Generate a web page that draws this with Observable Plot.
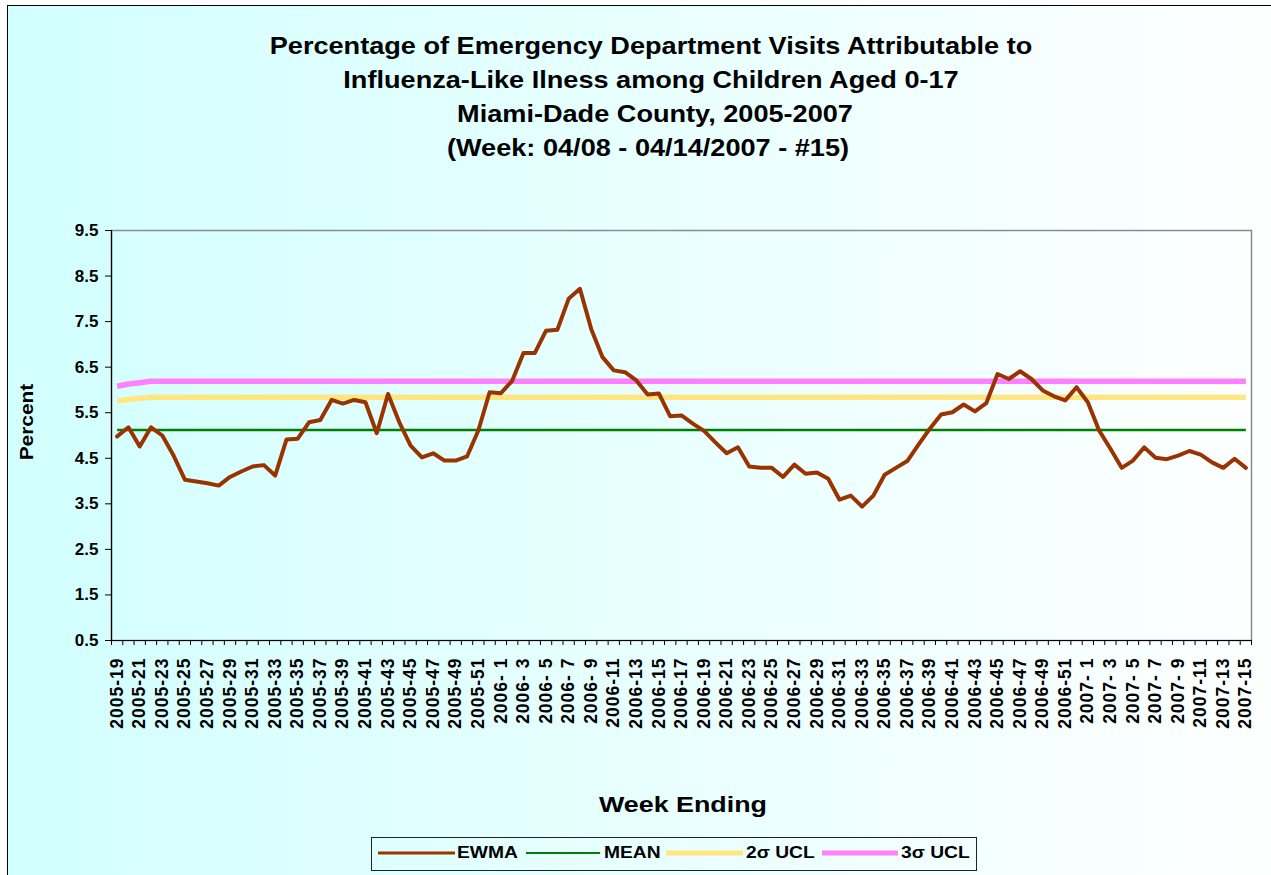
<!DOCTYPE html>
<html><head><meta charset="utf-8">
<script src="https://cdn.jsdelivr.net/npm/d3@7"></script>
<script src="https://cdn.jsdelivr.net/npm/@observablehq/plot@0.6"></script>
<style>
html,body{margin:0;padding:0;background:#fff;width:1271px;height:875px;overflow:hidden;position:relative;font-family:"Liberation Sans",Arial,sans-serif;font-weight:bold;color:#000}
#frame{position:absolute;left:7px;top:5px;width:1300px;height:900px;border-left:1px solid #000;border-top:1px solid #000;background:linear-gradient(to right,#d2ffff 0%,#ffffff 100%)}
#chart{position:absolute;left:0;top:200px}
.c{position:absolute;white-space:nowrap;transform:translate(-50%,-50%) scaleX(1.2)}
.tt{font-size:24px;transform:translate(-50%,-50%) scaleX(1.13)}
.l{position:absolute;white-space:nowrap;transform-origin:0 50%;transform:translateY(-50%) scaleX(1.2);font-size:16px}
.sw{position:absolute;transform:translateY(-50%)}
#legend{position:absolute;left:371px;top:837px;width:604px;height:32px;border:1px solid #222}
</style></head>
<body>
<div id="frame"></div>
<div class="c tt" style="left:651px;top:46px">Percentage of Emergency Department Visits Attributable to</div>
<div class="c tt" style="left:651px;top:80px">Influenza-Like Ilness among Children Aged 0-17</div>
<div class="c tt" style="left:655px;top:114px">Miami-Dade County, 2005-2007</div>
<div class="c tt" style="left:648px;top:148px">(Week: 04/08 - 04/14/2007 - #15)</div>
<div id="chart"></div>
<div class="c" style="left:27px;top:422px;font-size:19px;transform:translate(-50%,-50%) rotate(-90deg) scaleX(1.1)">Percent</div>
<div class="c" style="left:683px;top:805px;font-size:22px;transform:translate(-50%,-50%) scaleX(1.22)">Week Ending</div>
<div id="legend"></div>
<div class="sw" style="left:378px;top:853px;width:77px;height:3px;background:#993300"></div>
<div class="l" style="left:457px;top:853px">EWMA</div>
<div class="sw" style="left:526px;top:853px;width:74px;height:2px;background:#008000"></div>
<div class="l" style="left:604px;top:853px">MEAN</div>
<div class="sw" style="left:666px;top:853px;width:77px;height:5px;background:#ffe680"></div>
<div class="l" style="left:746px;top:853px">2σ UCL</div>
<div class="sw" style="left:822px;top:853px;width:76px;height:5px;background:#ff80ff"></div>
<div class="l" style="left:901px;top:853px">3σ UCL</div>
<script>
const weeks = [
"2005-19","2005-20","2005-21","2005-22","2005-23","2005-24","2005-25","2005-26","2005-27","2005-28",
"2005-29","2005-30","2005-31","2005-32","2005-33","2005-34","2005-35","2005-36","2005-37","2005-38",
"2005-39","2005-40","2005-41","2005-42","2005-43","2005-44","2005-45","2005-46","2005-47","2005-48",
"2005-49","2005-50","2005-51","2005-52","2006- 1","2006- 2","2006- 3","2006- 4","2006- 5","2006- 6",
"2006- 7","2006- 8","2006- 9","2006-10","2006-11","2006-12","2006-13","2006-14","2006-15","2006-16",
"2006-17","2006-18","2006-19","2006-20","2006-21","2006-22","2006-23","2006-24","2006-25","2006-26",
"2006-27","2006-28","2006-29","2006-30","2006-31","2006-32","2006-33","2006-34","2006-35","2006-36",
"2006-37","2006-38","2006-39","2006-40","2006-41","2006-42","2006-43","2006-44","2006-45","2006-46",
"2006-47","2006-48","2006-49","2006-50","2006-51","2006-52","2007- 1","2007- 2","2007- 3","2007- 4",
"2007- 5","2007- 6","2007- 7","2007- 8","2007- 9","2007-10","2007-11","2007-12","2007-13","2007-14",
"2007-15"];
const ewma = [
4.98,5.18,4.76,5.18,5.00,4.56,4.03,3.99,3.95,3.90,
4.09,4.21,4.32,4.35,4.12,4.91,4.93,5.29,5.34,5.78,
5.70,5.78,5.73,5.05,5.91,5.29,4.78,4.52,4.61,4.45,
4.45,4.54,5.11,5.95,5.93,6.20,6.81,6.81,7.30,7.32,
8.00,8.22,7.34,6.72,6.43,6.39,6.21,5.90,5.92,5.42,
5.44,5.26,5.10,4.85,4.61,4.74,4.32,4.29,4.29,4.09,
4.36,4.16,4.19,4.05,3.59,3.68,3.44,3.68,4.14,4.29,
4.44,4.80,5.15,5.46,5.51,5.68,5.53,5.71,6.35,6.24,
6.41,6.24,5.99,5.86,5.77,6.06,5.73,5.11,4.71,4.29,
4.45,4.74,4.51,4.48,4.56,4.66,4.58,4.41,4.29,4.49,
4.29];
const mean = [
5.12,5.12,5.12,5.12,5.12,5.12,5.12,5.12,5.12,5.12,
5.12,5.12,5.12,5.12,5.12,5.12,5.12,5.12,5.12,5.12,
5.12,5.12,5.12,5.12,5.12,5.12,5.12,5.12,5.12,5.12,
5.12,5.12,5.12,5.12,5.12,5.12,5.12,5.12,5.12,5.12,
5.12,5.12,5.12,5.12,5.12,5.12,5.12,5.12,5.12,5.12,
5.12,5.12,5.12,5.12,5.12,5.12,5.12,5.12,5.12,5.12,
5.12,5.12,5.12,5.12,5.12,5.12,5.12,5.12,5.12,5.12,
5.12,5.12,5.12,5.12,5.12,5.12,5.12,5.12,5.12,5.12,
5.12,5.12,5.12,5.12,5.12,5.12,5.12,5.12,5.12,5.12,
5.12,5.12,5.12,5.12,5.12,5.12,5.12,5.12,5.12,5.12,
5.12];
const ucl2 = [
5.76,5.79,5.82,5.84,5.84,5.84,5.84,5.84,5.84,5.84,
5.84,5.84,5.84,5.84,5.84,5.84,5.84,5.84,5.84,5.84,
5.84,5.84,5.84,5.84,5.84,5.84,5.84,5.84,5.84,5.84,
5.84,5.84,5.84,5.84,5.84,5.84,5.84,5.84,5.84,5.84,
5.84,5.84,5.84,5.84,5.84,5.84,5.84,5.84,5.84,5.84,
5.84,5.84,5.84,5.84,5.84,5.84,5.84,5.84,5.84,5.84,
5.84,5.84,5.84,5.84,5.84,5.84,5.84,5.84,5.84,5.84,
5.84,5.84,5.84,5.84,5.84,5.84,5.84,5.84,5.84,5.84,
5.84,5.84,5.84,5.84,5.84,5.84,5.84,5.84,5.84,5.84,
5.84,5.84,5.84,5.84,5.84,5.84,5.84,5.84,5.84,5.84,
5.84];
const ucl3 = [
6.08,6.13,6.16,6.19,6.19,6.19,6.19,6.19,6.19,6.19,
6.19,6.19,6.19,6.19,6.19,6.19,6.19,6.19,6.19,6.19,
6.19,6.19,6.19,6.19,6.19,6.19,6.19,6.19,6.19,6.19,
6.19,6.19,6.19,6.19,6.19,6.19,6.19,6.19,6.19,6.19,
6.19,6.19,6.19,6.19,6.19,6.19,6.19,6.19,6.19,6.19,
6.19,6.19,6.19,6.19,6.19,6.19,6.19,6.19,6.19,6.19,
6.19,6.19,6.19,6.19,6.19,6.19,6.19,6.19,6.19,6.19,
6.19,6.19,6.19,6.19,6.19,6.19,6.19,6.19,6.19,6.19,
6.19,6.19,6.19,6.19,6.19,6.19,6.19,6.19,6.19,6.19,
6.19,6.19,6.19,6.19,6.19,6.19,6.19,6.19,6.19,6.19,
6.19];
const yTicks = [0.5,1.5,2.5,3.5,4.5,5.5,6.5,7.5,8.5,9.5];

const n = weeks.length;
const boundaries = d3.range(-0.5, n, 1);
const labelIdx = d3.range(0, n, 2);

const chart = Plot.plot({
  width: 1271, height: 560,
  marginTop: 30, marginLeft: 111, marginRight: 20, marginBottom: 120,
  x: {domain: [-0.5, n - 0.5]},
  y: {domain: [0.5, 9.5]},
  style: {background: "transparent", fontFamily: "'Liberation Sans', Arial, sans-serif", fontWeight: "bold", color: "#000", overflow: "visible"},
  marks: [
    Plot.frame({stroke: "#8c8c8c", strokeWidth: 1.5}),
    Plot.lineY(ucl3, {stroke: "#ff80ff", strokeWidth: 5.5, strokeLinecap: "butt"}),
    Plot.lineY(ucl2, {stroke: "#ffe680", strokeWidth: 5.5, strokeLinecap: "butt"}),
    Plot.lineY(mean, {stroke: "#008000", strokeWidth: 2.5, strokeLinecap: "butt"}),
    Plot.lineY(ewma, {stroke: "#993300", strokeWidth: 4}),
    Plot.ruleX([-0.5], {stroke: "#000", strokeWidth: 1.2}),
    Plot.ruleY([0.5], {stroke: "#000", strokeWidth: 1.2}),
    Plot.axisY({ticks: yTicks, tickFormat: d => d.toFixed(1), tickSize: 6, tickPadding: 7, fontSize: 17, label: null, stroke: "#000"}),
    Plot.axisX({ticks: boundaries, tickFormat: () => "", tickSize: 5, label: null, stroke: "#000"}),
    Plot.axisX({ticks: labelIdx, tickFormat: i => weeks[i], tickRotate: -90, tickSize: 0, tickPadding: 17, fontSize: 17.5, label: null})
  ]
});
document.getElementById("chart").appendChild(chart);
d3.select(chart).selectAll("[aria-label='x-axis tick label'] text").style("letter-spacing", "1px");
</script>
</body></html>
